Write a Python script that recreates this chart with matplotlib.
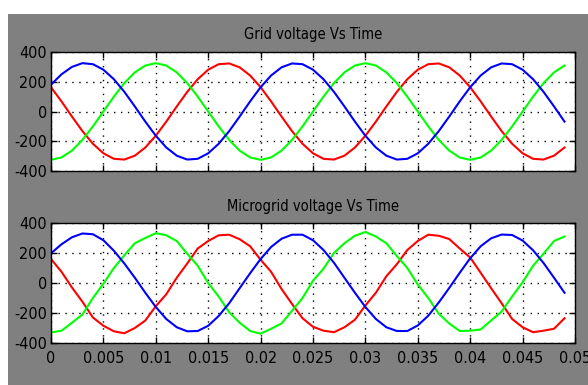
import matplotlib
matplotlib.use('Agg')
import matplotlib.pyplot as plt
from matplotlib.patches import Rectangle

# sample times (ms)
time_ms = [0, 1, 2, 3, 4, 5, 6, 7, 8, 9, 10, 11, 12, 13, 14, 15, 16, 17, 18, 19,
           20, 21, 22, 23, 24, 25, 26, 27, 28, 29, 30, 31, 32, 33, 34, 35, 36, 37, 38, 39,
           40, 41, 42, 43, 44, 45, 46, 47, 48, 49]

# grid voltage (V)
grid_red = [163, 68, -34, -132, -217, -281, -318, -323, -297, -242,
            -163, -68, 34, 132, 217, 281, 318, 323, 297, 242,
            163, 68, -34, -132, -217, -281, -318, -323, -297, -242,
            -163, -68, 34, 132, 217, 281, 318, 323, 297, 242,
            163, 68, -34, -132, -217, -281, -318, -323, -297, -242]
grid_green = [-325, -309, -263, -191, -100, 0, 100, 191, 263, 309,
              325, 309, 263, 191, 100, 0, -100, -191, -263, -309,
              -325, -309, -263, -191, -100, 0, 100, 191, 263, 309,
              325, 309, 263, 191, 100, 0, -100, -191, -263, -309,
              -325, -309, -263, -191, -100, 0, 100, 191, 263, 309]
grid_blue = [180, 250, 300, 325, 318, 281, 217, 132, 34, -68,
             -163, -242, -297, -323, -318, -281, -217, -132, -34, 68,
             163, 242, 297, 323, 318, 281, 217, 132, 34, -68,
             -163, -242, -297, -323, -318, -281, -217, -132, -34, 68,
             163, 242, 297, 323, 318, 281, 217, 132, 34, -68]

# microgrid voltage (V), a bit rippled
micro_red = [160, 75, -30, -125, -230, -285, -322, -335, -300, -250,
             -155, -75, 35, 130, 230, 280, 318, 322, 292, 245,
             155, 75, -40, -140, -235, -292, -318, -328, -295, -245,
             -150, -65, 45, 125, 220, 280, 322, 315, 293, 230,
             170, 68, -35, -135, -240, -295, -328, -318, -305, -235]
micro_green = [-330, -318, -265, -210, -100, -5, 100, 185, 265, 300,
               332, 318, 280, 195, 115, 0, -90, -195, -265, -320,
               -338, -305, -270, -185, -100, 15, 95, 200, 265, 315,
               340, 310, 265, 180, 100, -10, -100, -205, -270, -320,
               -318, -310, -250, -190, -90, 5, 115, 195, 280, 310]
micro_blue = [198, 258, 305, 330, 325, 285, 215, 130, 35, -65,
              -160, -240, -295, -322, -320, -285, -220, -135, -35, 65,
              160, 240, 295, 322, 322, 285, 220, 135, 35, -65,
              -160, -240, -295, -320, -320, -283, -218, -130, -33, 68,
              165, 245, 298, 323, 320, 283, 218, 133, 35, -65]

titles = ['Grid voltage Vs Time', 'Microgrid voltage Vs Time']
x_ticks = [0, 0.005, 0.01, 0.015, 0.02, 0.025, 0.03, 0.035, 0.04, 0.045, 0.05]
x_labels = ['0', '0.005', '0.01', '0.015', '0.02', '0.025', '0.03', '0.035', '0.04', '0.045', '0.05']
y_ticks = [-400, -200, 0, 200, 400]

plt.rcParams['font.family'] = ['DejaVu Sans']
plt.rcParams['font.stretch'] = 'condensed'
plt.rcParams['font.size'] = 10

fig = plt.figure(figsize=(5.88, 3.85), dpi=100, facecolor='white')
# gray panel behind the axes
fig.patches.append(Rectangle((8 / 588, 0), 1, 1 - 14 / 385, transform=fig.transFigure,
                             facecolor='#808080', edgecolor='none', zorder=-10))

t = [v / 1000 for v in time_ms]
ax1 = fig.add_axes([51 / 588, 1 - 171 / 385, 524 / 588, 119 / 385])
ax2 = fig.add_axes([51 / 588, 1 - 343 / 385, 524 / 588, 120 / 385])

series = [(grid_red, grid_green, grid_blue), (micro_red, micro_green, micro_blue)]
for ax, (r, g, b), title in zip([ax1, ax2], series, titles):
    ax.set_facecolor('white')
    ax.plot(t, r, color='#ff0000', lw=1.5)
    ax.plot(t, g, color='#00ff00', lw=1.5)
    ax.plot(t, b, color='#0000ff', lw=1.5)
    ax.set_xlim(0, 0.05)
    ax.set_ylim(-400, 400)
    ax.set_xticks(x_ticks)
    ax.set_yticks(y_ticks)
    ax.set_yticklabels([str(v) for v in y_ticks])
    ax.grid(True, color='black', linestyle=(0, (1, 4)), linewidth=1.0)
    ax.tick_params(direction='in', top=True, right=True, length=4, width=1,
                   colors='black', labelsize=11.5)
    ax.tick_params(axis='y', pad=3)
    ax.tick_params(axis='x', pad=6)
    for s in ax.spines.values():
        s.set_linewidth(1)
        s.set_color('black')
    ax.set_title(title, fontsize=10.5, pad=9, color='black')

ax1.set_xticklabels([])
ax2.set_xticklabels(x_labels)

plt.savefig('out.png', dpi=100, facecolor='white')
